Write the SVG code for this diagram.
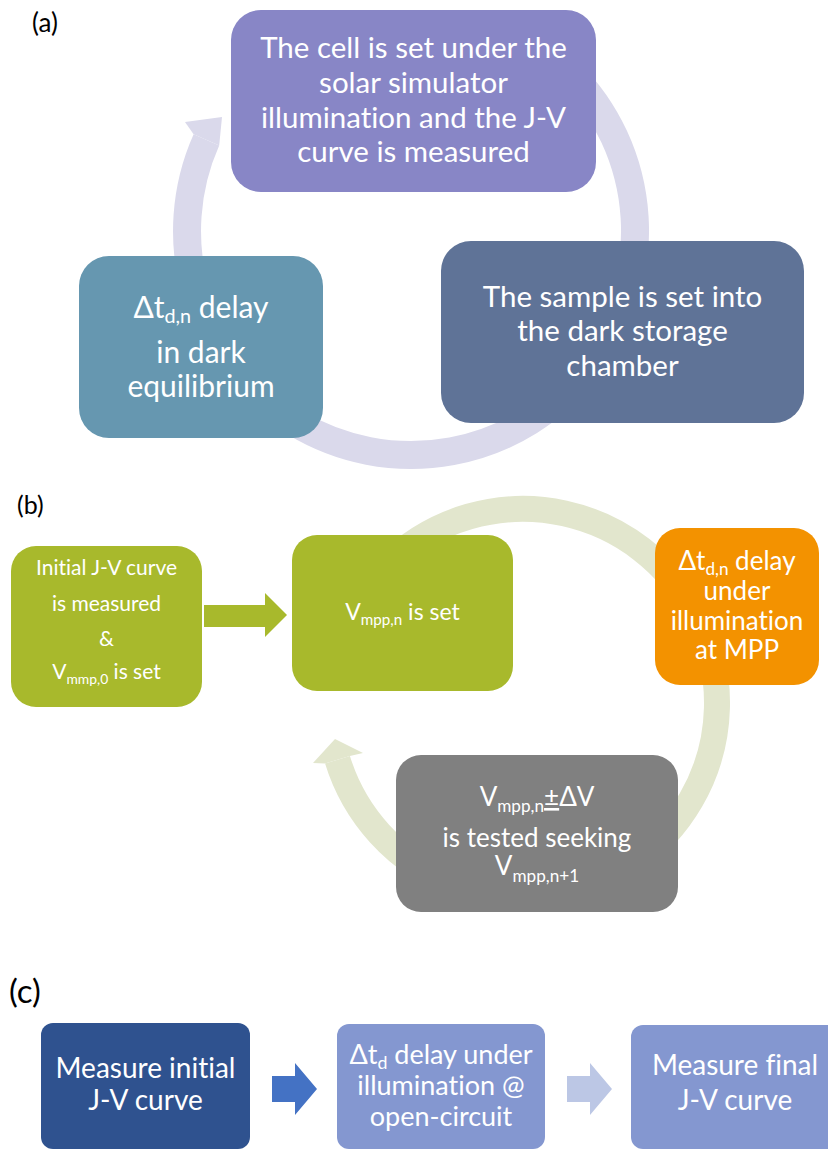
<svg xmlns="http://www.w3.org/2000/svg" width="828" height="1149" viewBox="0 0 828 1149">
<style>
text{font-family:Lato,"Liberation Sans",sans-serif;fill:#fff;text-anchor:middle;font-variant-ligatures:none;font-feature-settings:"liga" 0}
.lbl{fill:#000;text-anchor:start}
.sub{font-size:66%}
.ringA{fill:none;stroke:#DAD9EB;stroke-width:28}
.ringB{fill:none;stroke:#E2E6CD;stroke-width:26}
</style>
<rect width="828" height="1149" fill="#fff"/>
<text class="lbl" x="32" y="32" font-size="26">(a)</text>
<text class="lbl" x="17" y="514" font-size="25">(b)</text>
<text class="lbl" x="9" y="1003" font-size="33">(c)</text>

<g id="connectors">
<path class="ringA" d="M569.4,72.6 A224,224 0 1 1 206.4,139.9"/>
<polygon fill="#DAD9EB" points="193.6,134.2 185,122 222,117 219.2,145.6"/>
<path class="ringB" d="M340.7,636.6 A194,194 0 1 1 337.5,759.7"/>
<polygon fill="#E2E6CD" points="325,763.5 313,763 335,739 363,753 349.9,755.9"/>
<polygon fill="#A8B92C" points="204,605 265,605 265,593 287,615 265,637 265,627 204,627"/>
<polygon fill="#4472C4" points="272,1076 295,1076 295,1063 317,1089 295,1115 295,1102 272,1102"/>
<polygon fill="#BCC7E5" points="567,1076 590,1076 590,1063 612,1089 590,1115 590,1102 567,1102"/>
</g>

<g id="a_top">
<rect x="231" y="10" width="365" height="182" rx="30" fill="#8886C6"/>
<text font-size="29.5"><tspan x="413.5" y="58">The cell is set under the</tspan><tspan x="413.5" y="93">solar simulator</tspan><tspan x="413.5" y="128">illumination and the J-V</tspan><tspan x="413.5" y="162">curve is measured</tspan></text>
</g>
<g id="a_right">
<rect x="441" y="241" width="363" height="182" rx="30" fill="#5F7397"/>
<text font-size="29.5"><tspan x="622.5" y="307">The sample is set into</tspan><tspan x="622.5" y="341">the dark storage</tspan><tspan x="622.5" y="376">chamber</tspan></text>
</g>
<g id="a_left">
<rect x="79" y="256" width="244" height="182" rx="30" fill="#6697B0"/>
<text font-size="30" x="201" y="318">Δt<tspan class="sub" dy="5">d,n</tspan><tspan dy="-5"> delay</tspan></text>
<text font-size="30"><tspan x="201" y="363">in dark</tspan><tspan x="201" y="397">equilibrium</tspan></text>
</g>

<g id="b_init">
<rect x="11" y="546" width="191" height="161" rx="25" fill="#A8B92C"/>
<text font-size="21"><tspan x="106.5" y="575">Initial J-V curve</tspan><tspan x="106.5" y="611">is measured</tspan><tspan x="106.5" y="646">&amp;</tspan></text>
<text font-size="21" x="106.5" y="679">V<tspan class="sub" dy="5">mmp,0</tspan><tspan dy="-5"> is set</tspan></text>
</g>
<g id="b_set">
<rect x="292" y="535" width="221" height="156" rx="25" fill="#A8B92C"/>
<text font-size="23" x="402.5" y="620">V<tspan class="sub" dy="5">mpp,n</tspan><tspan dy="-5"> is set</tspan></text>
</g>
<g id="b_delay">
<rect x="655" y="528" width="164" height="157" rx="25" fill="#F39200"/>
<text font-size="26" x="737" y="570">Δt<tspan class="sub" dy="5">d,n</tspan><tspan dy="-5"> delay</tspan></text>
<text font-size="26"><tspan x="737" y="600">under</tspan><tspan x="737" y="630">illumination</tspan><tspan x="737" y="659">at MPP</tspan></text>
</g>
<g id="b_test">
<rect x="396" y="755" width="282" height="157" rx="25" fill="#808080"/>
<text font-size="26" x="537" y="806">V<tspan class="sub" dy="6">mpp,n</tspan><tspan dy="-6" text-decoration="underline">±</tspan>ΔV</text>
<text font-size="26" x="537" y="847">is tested seeking</text>
<text font-size="26" x="537" y="875">V<tspan class="sub" dy="7">mpp,n+1</tspan></text>
</g>

<g id="c_initial">
<rect x="41" y="1023" width="209" height="126" rx="12" fill="#2F528F"/>
<text font-size="28"><tspan x="145.5" y="1078">Measure initial</tspan><tspan x="145.5" y="1110">J-V curve</tspan></text>
</g>
<g id="c_delay">
<rect x="337" y="1024" width="208" height="125" rx="12" fill="#8497D0"/>
<text font-size="27" x="441" y="1064">Δt<tspan class="sub" dy="5">d</tspan><tspan dy="-5"> delay under</tspan></text>
<text font-size="27"><tspan x="441" y="1095">illumination @</tspan><tspan x="441" y="1126">open-circuit</tspan></text>
</g>
<g id="c_final">
<rect x="631" y="1025" width="210" height="124" rx="12" fill="#8497D0"/>
<text font-size="28"><tspan x="735" y="1075">Measure final</tspan><tspan x="735" y="1110">J-V curve</tspan></text>
</g>
</svg>
